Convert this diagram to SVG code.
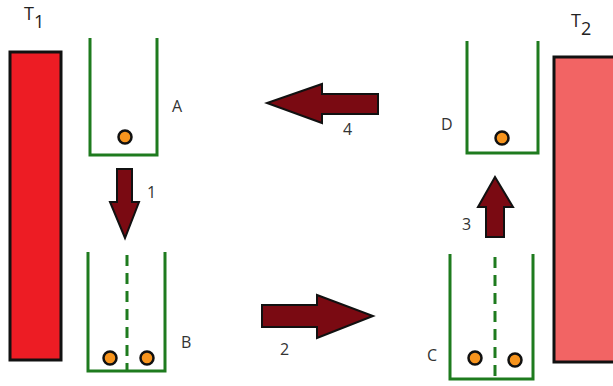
<svg xmlns="http://www.w3.org/2000/svg" width="613" height="386" viewBox="0 0 613 386">
<style>
.beaker{fill:none;stroke:#1E7B1E;stroke-width:3}
.dash{fill:none;stroke:#1E7B1E;stroke-width:3;stroke-dasharray:11 7}
.ball{fill:#F7941D;stroke:#111;stroke-width:2.5}
.arrow{fill:#7A0A12;stroke:#111;stroke-width:2;stroke-linejoin:miter}
.lbl{font-family:"Open Sans","DejaVu Sans",sans-serif;font-size:16px;fill:#333}
.sub{font-family:"Open Sans","DejaVu Sans",sans-serif;font-size:18px;fill:#222}
</style>
<rect width="613" height="386" fill="#fff"/>
<g id="T1">
<rect x="10" y="52" width="51" height="308" fill="#ED1C24" stroke="#111" stroke-width="3"/>
<text class="sub" x="24" y="20">T</text><text class="sub" x="34" y="28">1</text>
</g>
<g id="T2">
<rect x="554" y="57" width="64" height="305" fill="#F26464" stroke="#111" stroke-width="3"/>
<text class="sub" x="571" y="27">T</text><text class="sub" x="581" y="35">2</text>
</g>
<g id="A">
<path class="beaker" d="M90,38 V155 H157 V38"/>
<circle class="ball" cx="125" cy="137" r="6.5"/>
<text class="lbl" x="172" y="112">A</text>
</g>
<g id="B">
<path class="beaker" d="M88,252 V371 H165 V252"/>
<line class="dash" x1="127" y1="255" x2="127" y2="371"/>
<circle class="ball" cx="110" cy="358" r="6.5"/>
<circle class="ball" cx="147" cy="358" r="6.5"/>
<text class="lbl" x="181" y="348">B</text>
</g>
<g id="C">
<path class="beaker" d="M450,254 V379 H533 V254"/>
<line class="dash" x1="495" y1="257" x2="495" y2="379"/>
<circle class="ball" cx="475" cy="358" r="6.5"/>
<circle class="ball" cx="515" cy="360" r="6.5"/>
<text class="lbl" x="427" y="361">C</text>
</g>
<g id="D">
<path class="beaker" d="M467,41 V153 H538 V41"/>
<circle class="ball" cx="502" cy="138" r="6.5"/>
<text class="lbl" x="441" y="130">D</text>
</g>
<g id="connectors">
<polygon class="arrow" points="117,169 132,169 132,202 139,202 125,238 110,202 117,202"/>
<text class="lbl" x="147" y="198">1</text>
<polygon class="arrow" points="262,305 317,305 317,295 373,316 317,338 317,327 262,327"/>
<text class="lbl" x="280" y="355">2</text>
<polygon class="arrow" points="486,237 504,237 504,207 513,207 495,177 478,207 486,207"/>
<text class="lbl" x="462" y="230">3</text>
<polygon class="arrow" points="378,94 322,94 322,84 267,103 322,123 322,114 378,114"/>
<text class="lbl" x="343" y="135">4</text>
</g>
</svg>
